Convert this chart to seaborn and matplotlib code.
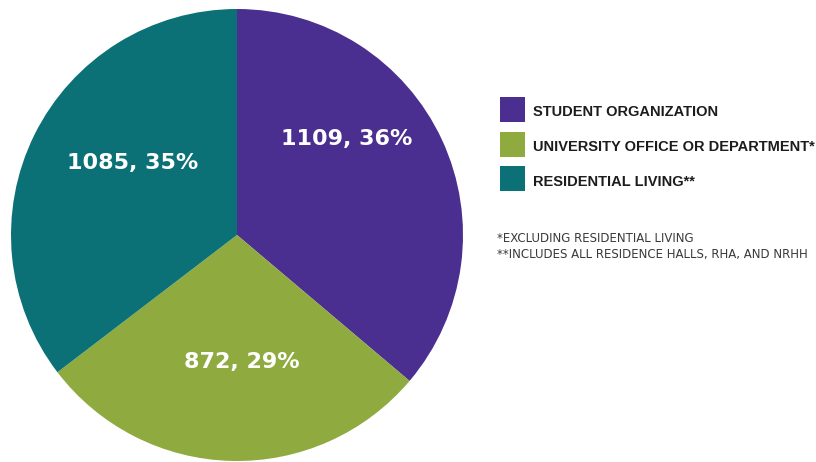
import matplotlib
matplotlib.use("Agg")
import matplotlib.pyplot as plt
import seaborn as sns
from matplotlib.patches import Rectangle

categories = ["STUDENT ORGANIZATION", "UNIVERSITY OFFICE OR DEPARTMENT*", "RESIDENTIAL LIVING**"]
counts = [1109, 872, 1085]
pct_labels = ["1109, 36%", "872, 29%", "1085, 35%"]
colors = ["#4a2e90", "#8faa3f", "#0b7177"]
footnotes = ["*EXCLUDING RESIDENTIAL LIVING", "**INCLUDES ALL RESIDENCE HALLS, RHA, AND NRHH"]

sns.set_theme(style="white")

W, H = 816, 462
fig = plt.figure(figsize=(W / 100, H / 100), dpi=100)
fig.patch.set_facecolor("white")

# pie axes: centre (237, 235) px, radius 226 px
ax = fig.add_axes([11 / W, 1 / H, 452 / W, 452 / H])
wedges, _ = ax.pie(counts, colors=colors, startangle=90, counterclock=False,
                   radius=1, wedgeprops=dict(linewidth=0))
ax.set_xlim(-1, 1)
ax.set_ylim(-1, 1)
ax.set_aspect("equal")
ax.axis("off")

label_pos = [(0.487, 0.40), (0.02, -0.59), (-0.46, 0.29)]
for txt, (x, y) in zip(pct_labels, label_pos):
    ax.text(x, y, txt, color="white", fontsize=16, fontweight="bold",
            family="DejaVu Sans", ha="center", va="baseline")

# legend, drawn by hand to sit where the reference has it
def fy(py):
    return 1 - py / H

sq_tops = [97, 132, 166]
baselines = [116, 151, 186]

for name, col, top, base in zip(categories, colors, sq_tops, baselines):
    fig.patches.append(Rectangle((500 / W, fy(top + 25)), 25 / W, 25 / H,
                                 transform=fig.transFigure, facecolor=col,
                                 edgecolor="none"))
    fig.text(533 / W, fy(base), name, color="#1c1c1c", fontweight="bold",
             family=["Liberation Sans", "DejaVu Sans"], fontsize=10.5,
             ha="left", va="baseline")

for note, base in zip(footnotes, [242, 258]):
    fig.text(497 / W, fy(base), note, color="#3a3a3a", ha="left",
             va="baseline", family="DejaVu Sans", fontsize=8.5)

fig.savefig("out.png", dpi=100, facecolor="white")
